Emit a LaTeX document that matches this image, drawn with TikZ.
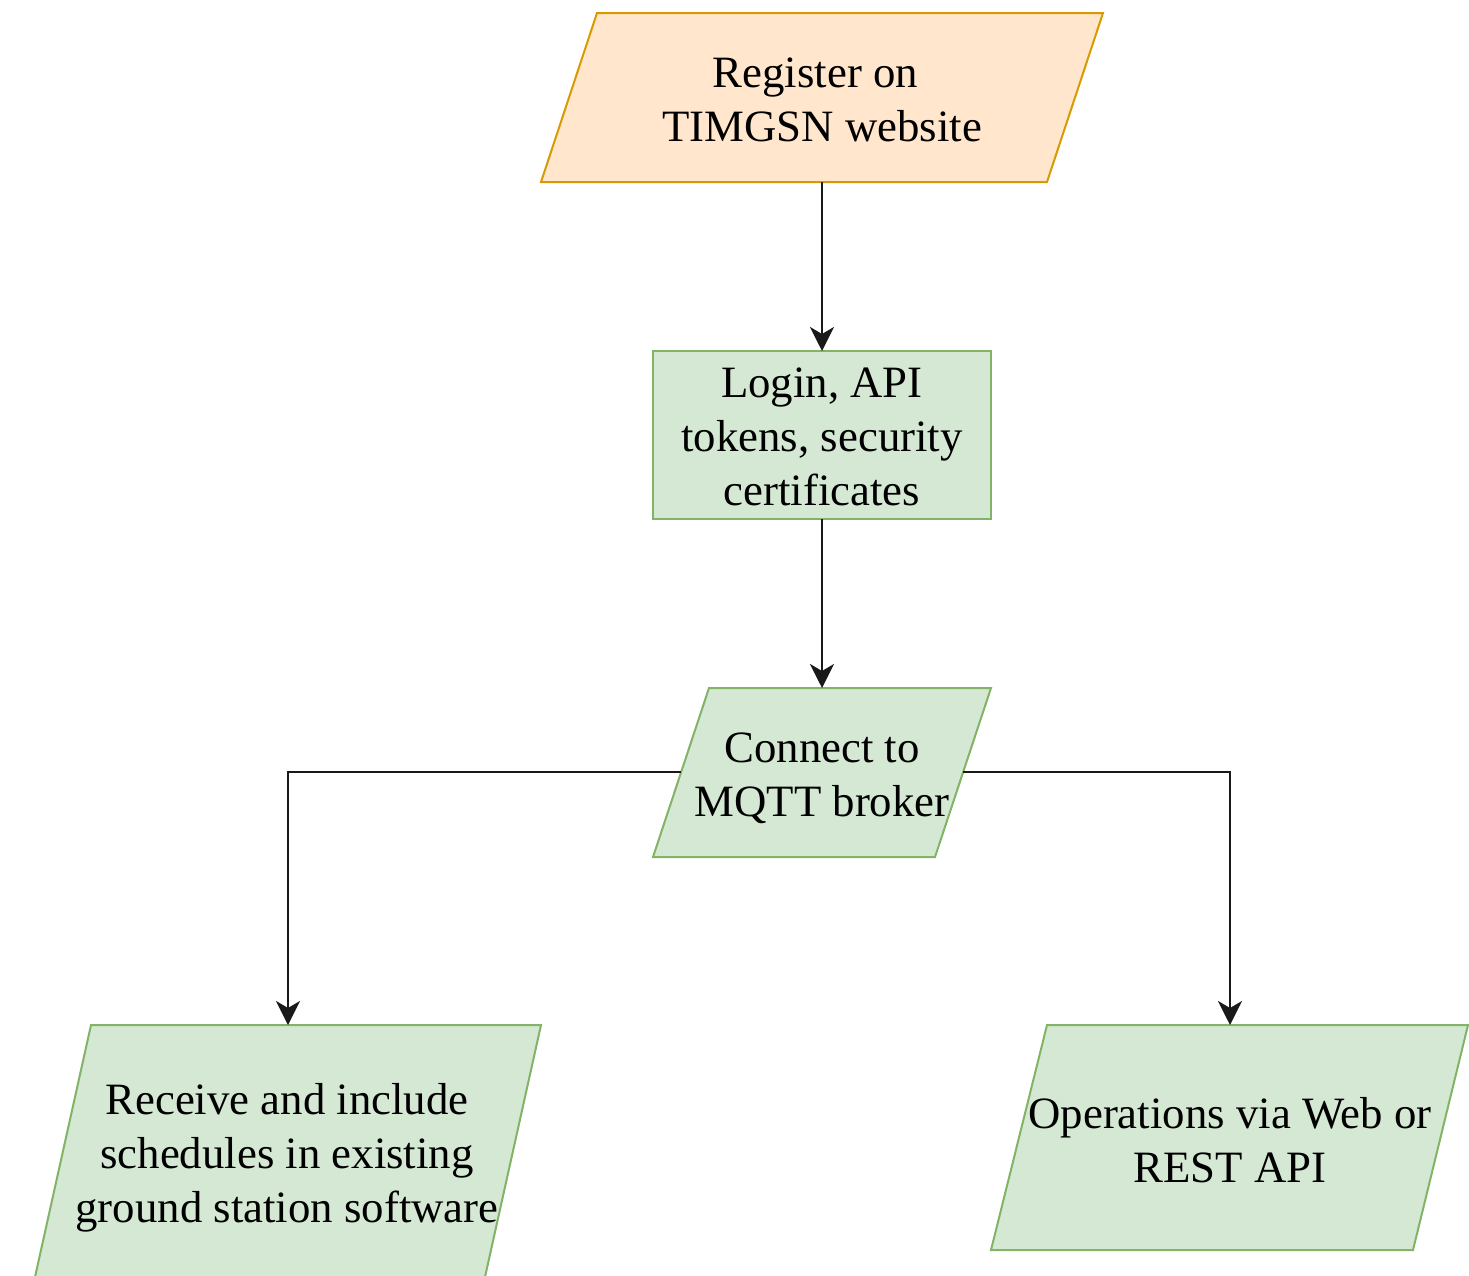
\documentclass[tikz,border=0pt]{standalone}
\usepackage{fontspec}
\setmainfont{Liberation Serif}
\usetikzlibrary{arrows.meta}
\definecolor{orfill}{HTML}{FFE6CC}
\definecolor{orline}{HTML}{D79B00}
\definecolor{grfill}{HTML}{D5E8D4}
\definecolor{grline}{HTML}{82B366}
\begin{document}
\begin{tikzpicture}[x=1pt,y=-1pt,
  orbox/.style={fill=orfill,draw=orline,line width=2pt,line join=miter},
  grbox/.style={fill=grfill,draw=grline,line width=2pt,line join=miter},
  lbl/.style={align=center,font=\fontsize{44.8}{54}\selectfont,inner sep=0pt,text=black},
  conn/.style={draw=black!90,line width=2.8pt,-{Stealth[length=24pt,width=24pt,inset=7pt]}}]
\useasboundingbox (0,0) rectangle (1469,1275);
\begin{scope}
  \clip (0,0) rectangle (1469,1275);
  % shapes
  \draw[orbox] (597,13) -- (1103,13) -- (1047,182) -- (541,182) -- cycle;
  \draw[grbox] (653,351) rectangle (991,519);
  \draw[grbox] (709,688) -- (991,688) -- (935,857) -- (653,857) -- cycle;
  \draw[grbox] (91,1025) -- (541,1025) -- (481,1295) -- (31,1295) -- cycle;
  \draw[grbox] (1047,1025) -- (1468,1025) -- (1413,1250) -- (991,1250) -- cycle;
\end{scope}
% anchor coordinates
\coordinate (aB) at (822,182);
\coordinate (bT) at (822,351);
\coordinate (bB) at (822,519);
\coordinate (cT) at (822,688);
\coordinate (cL) at (681,772);
\coordinate (cR) at (963,772);
\coordinate (dT) at (288,1025);
\coordinate (eT) at (1230,1025);
% labels
\node[lbl] (ta) at (822,100) {Register on\hspace*{0.3em}\\TIMGSN website};
\node[lbl] (tb) at (822,437) {Login, API\\tokens, security\\certificates};
\node[lbl] (tc) at (822,778) {Connect to\\MQTT broker};
\node[lbl] (td) at (287,1158) {Receive and include\\schedules in existing\\ground station software};
\node[lbl] (te) at (1230,1140) {Operations via Web or\\REST API};
% connectors
\draw[conn] (aB) -- (bT);
\draw[conn] (bB) -- (cT);
\draw[conn] (cL) -| (dT);
\draw[conn] (cR) -| (eT);
\end{tikzpicture}
\end{document}
